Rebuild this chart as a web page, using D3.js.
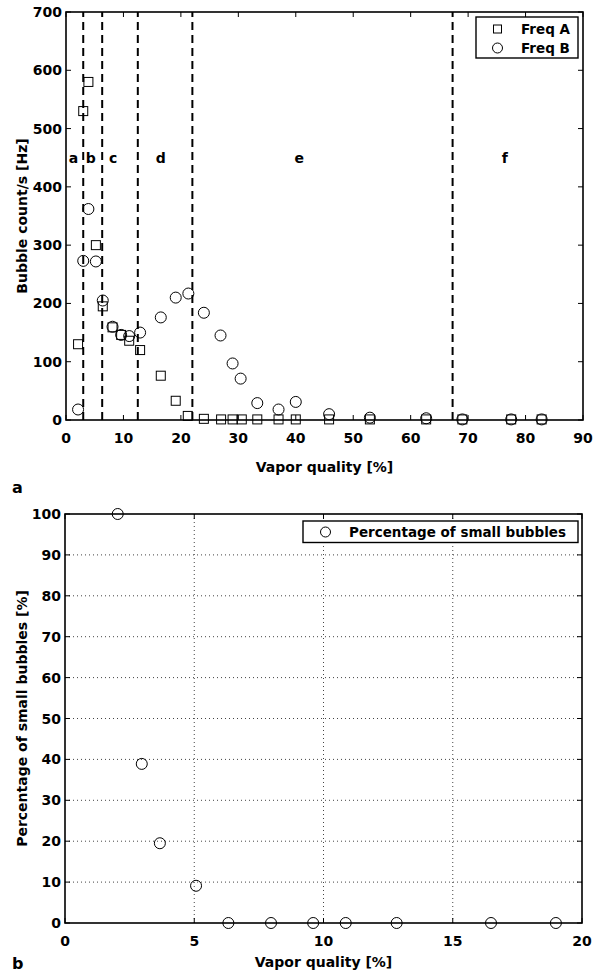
<!DOCTYPE html>
<html>
<head>
  <meta charset="utf-8">
  <title>Bubble counts</title>
  <style>
    body { margin: 0; background: #fff; }
    svg text { font-family: "DejaVu Sans", sans-serif; font-weight: bold; fill: #000; }
  </style>
</head>
<body>
<div class="area"></div>
<script src="https://cdn.jsdelivr.net/npm/d3@7/dist/d3.min.js"></script>
<script>

// panel a data
var qualityA = [2.1, 3.0, 3.9, 5.2, 6.4, 8.1, 9.6, 11.0, 12.9, 16.5, 19.1, 21.2, 24.0, 27.0, 29.0, 30.6, 33.3, 37.0, 40.0, 45.8, 52.9, 62.7, 69.0, 77.5, 82.8];
var freqA    = [130, 530, 580, 300, 195, 159, 146, 136, 120, 76, 33, 7, 2, 1, 1, 1, 1, 1, 1, 1, 1, 1, 1, 1, 1];
var qualityB = [2.1, 3.0, 3.9, 5.2, 6.4, 8.1, 9.6, 11.0, 12.9, 16.5, 19.1, 21.3, 24.0, 26.9, 29.0, 30.4, 33.3, 37.0, 40.0, 45.8, 52.9, 62.7, 69.0, 77.5, 82.8];
var freqB    = [18, 273, 362, 272, 205, 160, 146, 144, 150, 176, 210, 217, 184, 145, 97, 71, 29, 18, 31, 10, 4, 3, 1, 1, 1];
var regionBounds = [3.0, 6.3, 12.5, 22.0, 67.3];
var regionNames  = ['a', 'b', 'c', 'd', 'e', 'f'];
var regionLabelX = [1.3, 4.3, 8.2, 16.5, 40.6, 76.4];
var xTicksA = [0, 10, 20, 30, 40, 50, 60, 70, 80, 90];
var yTicksA = [0, 100, 200, 300, 400, 500, 600, 700];

// panel b data
var qualitySmall = [2.04, 2.97, 3.67, 5.07, 6.32, 7.97, 9.6, 10.86, 12.83, 16.48, 18.99];
var pctSmall     = [100, 38.9, 19.5, 9.1, 0, 0, 0, 0, 0, 0, 0];
var xTicksB = [0, 5, 10, 15, 20];
var yTicksB = [0, 10, 20, 30, 40, 50, 60, 70, 80, 90, 100];

var W = 594, H = 974, fs = '14px';
var svg = d3.select('.area').append('svg').attr('width', W).attr('height', H);

// inward ticks on all four sides, matlab style
function frame(g, x, y, xt, yt, grid) {
  var x0 = x.range()[0], x1 = x.range()[1], y0 = y.range()[0], y1 = y.range()[1];
  if (grid) {
    g.selectAll('.gx').data(xt.slice(1, -1)).enter().append('line')
      .attr('x1', d => x(d)).attr('x2', d => x(d)).attr('y1', y0).attr('y2', y1)
      .attr('stroke', '#444').attr('stroke-width', 1).attr('stroke-dasharray', '1,3');
    g.selectAll('.gy').data(yt.slice(1, -1)).enter().append('line')
      .attr('y1', d => y(d)).attr('y2', d => y(d)).attr('x1', x0).attr('x2', x1)
      .attr('stroke', '#444').attr('stroke-width', 1).attr('stroke-dasharray', '1,3');
  }
  var tl = 5;
  xt.forEach(function (d) {
    g.append('line').attr('x1', x(d)).attr('x2', x(d)).attr('y1', y0).attr('y2', y0 - tl).attr('stroke', '#000');
    g.append('line').attr('x1', x(d)).attr('x2', x(d)).attr('y1', y1).attr('y2', y1 + tl).attr('stroke', '#000');
    g.append('text').attr('x', x(d)).attr('y', y0 + 23).attr('text-anchor', 'middle')
      .style('font-size', fs).text(d);
  });
  yt.forEach(function (d) {
    g.append('line').attr('y1', y(d)).attr('y2', y(d)).attr('x1', x0).attr('x2', x0 + tl).attr('stroke', '#000');
    g.append('line').attr('y1', y(d)).attr('y2', y(d)).attr('x1', x1).attr('x2', x1 - tl).attr('stroke', '#000');
    g.append('text').attr('x', x0 - 4).attr('y', y(d) + 5).attr('text-anchor', 'end')
      .style('font-size', fs).text(d);
  });
  g.append('rect').attr('x', x0).attr('y', y1).attr('width', x1 - x0).attr('height', y0 - y1)
    .attr('fill', 'none').attr('stroke', '#000').attr('stroke-width', 1.6);
}

// ---- panel a ----
var xa = d3.scaleLinear().domain([0, 90]).range([66, 583]);
var ya = d3.scaleLinear().domain([0, 700]).range([420, 12]);
var ga = svg.append('g');

ga.selectAll('.bound').data(regionBounds).enter().append('line')
  .attr('x1', d => xa(d)).attr('x2', d => xa(d)).attr('y1', ya(0)).attr('y2', ya(700))
  .attr('stroke', '#000').attr('stroke-width', 2).attr('stroke-dasharray', '8,5');

ga.selectAll('.rl').data(regionNames).enter().append('text')
  .attr('x', (d, i) => xa(regionLabelX[i])).attr('y', ya(450) + 5)
  .attr('text-anchor', 'middle').style('font-size', fs).text(d => d);

frame(ga, xa, ya, xTicksA, yTicksA, false);

ga.selectAll('.sq').data(qualityA).enter().append('rect')
  .attr('x', d => xa(d) - 4.5).attr('y', (d, i) => ya(freqA[i]) - 4.5)
  .attr('width', 9).attr('height', 9)
  .attr('fill', 'none').attr('stroke', '#000').attr('stroke-width', 1);

ga.selectAll('.ci').data(qualityB).enter().append('circle')
  .attr('cx', d => xa(d)).attr('cy', (d, i) => ya(freqB[i])).attr('r', 5.5)
  .attr('fill', 'none').attr('stroke', '#000').attr('stroke-width', 1);

// legend a
ga.append('rect').attr('x', 476).attr('y', 17).attr('width', 102).attr('height', 41)
  .attr('fill', '#fff').attr('stroke', '#000').attr('stroke-width', 1.4);
ga.append('rect').attr('x', 493.5).attr('y', 25).attr('width', 8).attr('height', 8)
  .attr('fill', 'none').attr('stroke', '#000');
ga.append('circle').attr('cx', 497.5).attr('cy', 48).attr('r', 5).attr('fill', 'none').attr('stroke', '#000');
ga.append('text').attr('x', 521).attr('y', 34).style('font-size', '13.5px').text('Freq A');
ga.append('text').attr('x', 521).attr('y', 53).style('font-size', '13.5px').text('Freq B');

ga.append('text').attr('x', (66 + 583) / 2).attr('y', 472).attr('text-anchor', 'middle')
  .style('font-size', fs).text('Vapor quality [%]');
ga.append('text').attr('transform', 'translate(27,' + ((12 + 420) / 2) + ') rotate(-90)')
  .attr('text-anchor', 'middle').style('font-size', fs).text('Bubble count/s [Hz]');
ga.append('text').attr('x', 12).attr('y', 493).style('font-size', '16px').text('a');

// ---- panel b ----
var xb = d3.scaleLinear().domain([0, 20]).range([65, 582]);
var yb = d3.scaleLinear().domain([0, 100]).range([923, 514]);
var gb = svg.append('g');

frame(gb, xb, yb, xTicksB, yTicksB, true);

gb.selectAll('.ci').data(qualitySmall).enter().append('circle')
  .attr('cx', d => xb(d)).attr('cy', (d, i) => yb(pctSmall[i])).attr('r', 5.5)
  .attr('fill', 'none').attr('stroke', '#000').attr('stroke-width', 1);

// legend b
gb.append('rect').attr('x', 303).attr('y', 521).attr('width', 275).attr('height', 21.5)
  .attr('fill', '#fff').attr('stroke', '#000').attr('stroke-width', 1.4);
gb.append('circle').attr('cx', 325.5).attr('cy', 532).attr('r', 5).attr('fill', 'none').attr('stroke', '#000');
gb.append('text').attr('x', 349).attr('y', 537).style('font-size', '13.5px').text('Percentage of small bubbles');

gb.append('text').attr('x', (65 + 582) / 2).attr('y', 967).attr('text-anchor', 'middle')
  .style('font-size', fs).text('Vapor quality [%]');
gb.append('text').attr('transform', 'translate(27,' + ((514 + 923) / 2) + ') rotate(-90)')
  .attr('text-anchor', 'middle').style('font-size', fs).text('Percentage of small bubbles [%]');
gb.append('text').attr('x', 12).attr('y', 969).style('font-size', '16px').text('b');

</script>
</body>
</html>
